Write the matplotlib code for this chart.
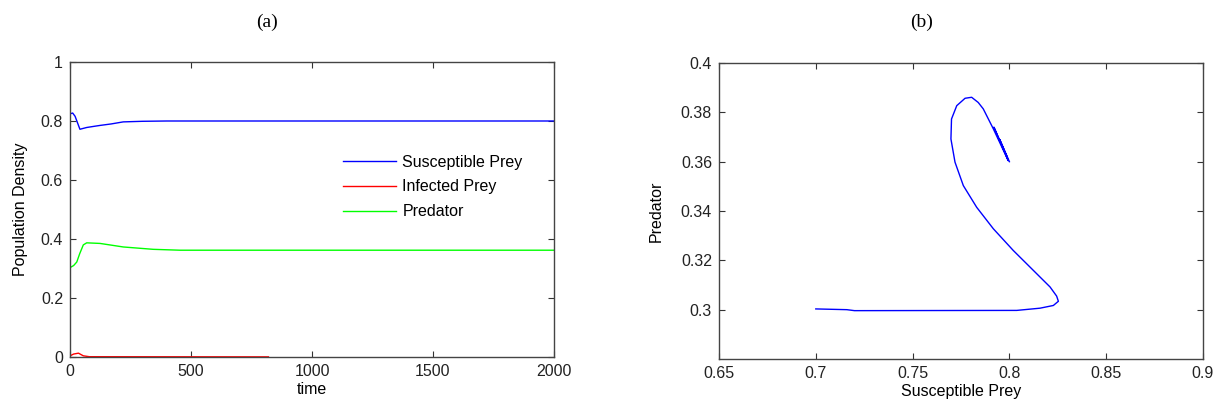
import numpy as np
import matplotlib.pyplot as plt
from matplotlib import rcParams

rcParams['font.family'] = 'sans-serif'
rcParams['font.sans-serif'] = ['Liberation Sans']
rcParams['font.size'] = 11.5

# --- (a) time series ---
t_sus = [0, 3, 11, 21, 41, 55, 69, 100, 124, 170, 220, 300, 400, 2000]
sus = [0.825, 0.825, 0.827, 0.816, 0.772, 0.775, 0.778, 0.782, 0.785, 0.790,
       0.797, 0.799, 0.800, 0.800]

t_inf = [0, 15, 35, 55, 80, 820]
inf = [0.004, 0.010, 0.013, 0.004, 0.001, 0.0005]

t_pred = [0, 15, 28, 40, 55, 69, 124, 220, 344, 455, 2000]
pred = [0.303, 0.310, 0.322, 0.350, 0.380, 0.387, 0.385, 0.373, 0.365, 0.362, 0.362]

# --- (b) phase portrait ---
phase_x = [0.7000, 0.7160, 0.7200, 0.8038, 0.8158, 0.8227, 0.8253, 0.8244,
           0.8210, 0.8124, 0.8020, 0.7917, 0.7831, 0.7762, 0.7719, 0.7698,
           0.7701, 0.7728, 0.7771, 0.7805, 0.7839, 0.7865, 0.7917, 0.7994,
           0.7920, 0.7990, 0.7950, 0.8000]
phase_y = [0.3003, 0.3000, 0.2996, 0.2997, 0.3006, 0.3017, 0.3034, 0.3055,
           0.3092, 0.3159, 0.3240, 0.3328, 0.3415, 0.3503, 0.3598, 0.3692,
           0.3773, 0.3827, 0.3857, 0.3861, 0.3840, 0.3814, 0.3733, 0.3604,
           0.3740, 0.3615, 0.3690, 0.3600]

fig = plt.figure(figsize=(12.25, 4.12), dpi=100)
ax1 = fig.add_axes([70/1225, 1-357/412, 484/1225, 295/412])
ax2 = fig.add_axes([719/1225, 1-359/412, 484/1225, 296/412])

ax1.plot(t_sus, sus, color='#0000ff', lw=1, label='Susceptible Prey')
ax1.plot(t_inf, inf, color='#ff0000', lw=1, label='Infected Prey')
ax1.plot(t_pred, pred, color='#00ff00', lw=1, label='Predator')
ax1.set_xlim(0, 2000)
ax1.set_ylim(0, 1)
ax1.set_xticks([0, 500, 1000, 1500, 2000])
ax1.set_yticks([0, 0.2, 0.4, 0.6, 0.8, 1])
ax1.set_yticklabels(['0', '0.2', '0.4', '0.6', '0.8', '1'])
ax1.set_xlabel('time', labelpad=2)
ax1.set_ylabel('Population Density', labelpad=9)
ax1.legend(loc='upper left', bbox_to_anchor=(0.535, 0.735), frameon=False,
           handlelength=3.3, handletextpad=0.4, labelspacing=0.62, fontsize=11.5)

ax2.plot(phase_x, phase_y, color='#0000ff', lw=1)
ax2.set_xlim(0.65, 0.9)
ax2.set_ylim(0.28, 0.4)
ax2.set_xticks([0.65, 0.7, 0.75, 0.8, 0.85, 0.9])
ax2.set_xticklabels(['0.65', '0.7', '0.75', '0.8', '0.85', '0.9'])
ax2.set_yticks([0.3, 0.32, 0.34, 0.36, 0.38, 0.4])
ax2.set_yticklabels(['0.3', '0.32', '0.34', '0.36', '0.38', '0.4'])
ax2.set_xlabel('Susceptible Prey', labelpad=2)
ax2.set_ylabel('Predator', labelpad=12)

for ax in (ax1, ax2):
    ax.tick_params(direction='in', top=True, right=True, length=4, width=0.8,
                   colors='#333333', labelcolor='#222222', pad=5)
    for s in ax.spines.values():
        s.set_color('#444444')
        s.set_linewidth(1.0)

fig.text(267/1225, 1-22/412, '(a)', family='Liberation Serif', fontsize=14,
         ha='center', va='center')
fig.text(922/1225, 1-22/412, '(b)', family='Liberation Serif', fontsize=14,
         ha='center', va='center')

plt.savefig('out.png', dpi=100)
